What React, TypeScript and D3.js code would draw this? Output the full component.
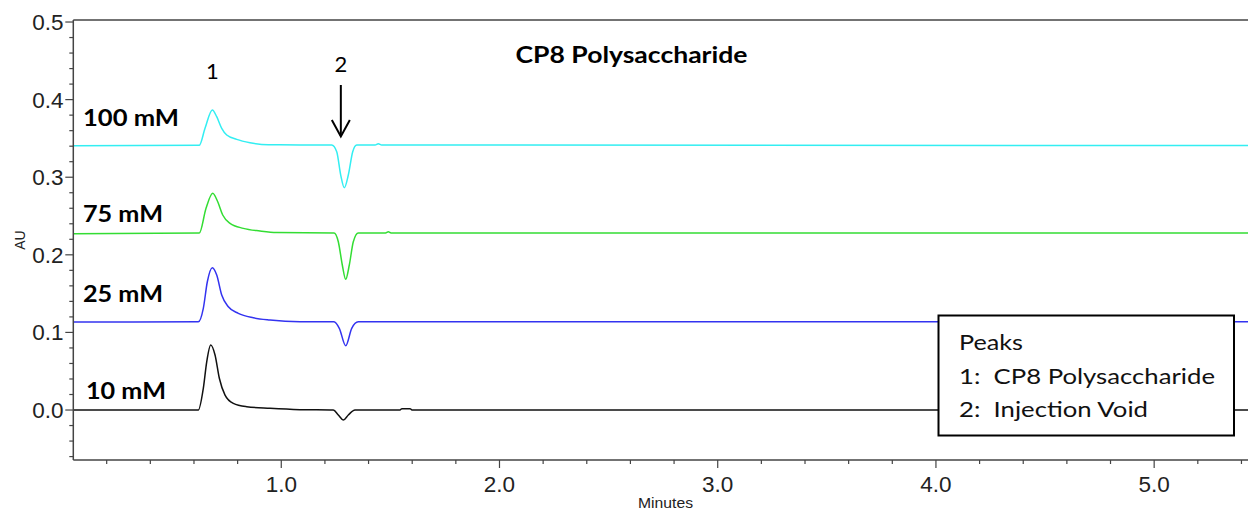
import React from "react";
import * as d3 from "d3";

// Chromatogram traces: [time (min), absorbance (AU)]
const trace100mM: [number, number][] = [
  [0.047, 0.3405], [0.6245, 0.3412], [0.6506, 0.363], [0.6841, 0.3866], [0.7042, 0.378],
  [0.7271, 0.363], [0.75, 0.3544], [0.7959, 0.3488], [0.8568, 0.3445], [0.9407, 0.3418],
  [1.2312, 0.3415], [1.2541, 0.3329], [1.2724, 0.3028], [1.2889, 0.2865], [1.3072, 0.3028],
  [1.3274, 0.3329], [1.3457, 0.3415], [1.43, 0.3415], [1.4447, 0.3432], [1.46, 0.3415],
  [5.43, 0.3408],
];
const trace75mM: [number, number][] = [
  [0.047, 0.2272], [0.6245, 0.228], [0.6552, 0.2599], [0.6859, 0.2793], [0.7088, 0.2684],
  [0.7317, 0.2513], [0.7652, 0.2406], [0.8261, 0.2341], [0.9026, 0.2307], [0.9791, 0.2287],
  [1.2417, 0.2282], [1.2614, 0.2169], [1.2797, 0.1869], [1.2953, 0.1684], [1.3118, 0.1869],
  [1.3301, 0.2169], [1.353, 0.2282], [1.478, 0.2282], [1.4905, 0.2298], [1.503, 0.2282],
  [5.43, 0.2282],
];
const trace25mM: [number, number][] = [
  [0.047, 0.1134], [0.6199, 0.1136], [0.6428, 0.1311], [0.6612, 0.1653], [0.6841, 0.1834],
  [0.7042, 0.174], [0.7271, 0.1482], [0.7574, 0.1331], [0.8032, 0.1246], [0.8719, 0.1189],
  [0.9485, 0.116], [1.086, 0.1138], [1.2417, 0.1137], [1.266, 0.1053], [1.2953, 0.0829],
  [1.3228, 0.1053], [1.353, 0.1137], [5.43, 0.1137],
];
const trace10mM: [number, number][] = [
  [0.047, 0.0], [0.6199, 0.0], [0.6428, 0.028], [0.6584, 0.0622], [0.6768, 0.0838],
  [0.6965, 0.0709], [0.7162, 0.0409], [0.7423, 0.0193], [0.7803, 0.0086], [0.8417, 0.0043],
  [0.9485, 0.0022], [1.086, 0.0005], [1.2385, 0.0], [1.2614, -0.0064], [1.2843, -0.0129],
  [1.3072, -0.0064], [1.3379, 0.0], [1.544, 0.0], [1.553, 0.0018], [1.59, 0.0018],
  [1.599, 0.0], [5.43, 0.0],
];

const concentrations = ["100 mM", "75 mM", "25 mM", "10 mM"];
const traces = [trace100mM, trace75mM, trace25mM, trace10mM];

const yTicks = [0.0, 0.1, 0.2, 0.3, 0.4, 0.5];
const xTicks = [1.0, 2.0, 3.0, 4.0, 5.0];

const peakNumbers = ["1", "2"];
const peakTimes = [0.684, 1.289];
const legendTitle = "Peaks";
const legendEntries = ["1:  CP8 Polysaccharide", "2:  Injection Void"];
const chartTitle = "CP8 Polysaccharide";

// Styling / layout
const W = 1248;
const H = 512;
const colors = ["#33eef2", "#33dd33", "#3333f0", "#111111"];
const labelOffsets = [
  { x: 83, dy: -19.5, w: 96 },
  { x: 83, dy: -11.5, w: 80 },
  { x: 83, dy: -20.5, w: 80 },
  { x: 86, dy: -11.5, w: 80 },
];
const legendWidths = [64, 256, 189];

export default function App() {
  const x = d3.scaleLinear().domain([0.047, 5.43]).range([73.3, 1248]);
  const y = d3.scaleLinear().domain([-0.0644, 0.5026]).range([460, 20]);

  const line = d3
    .line<[number, number]>()
    .x((d) => x(d[0]))
    .y((d) => y(d[1]))
    .curve(d3.curveMonotoneX);

  const xMinor = d3.range(0.2, 5.41, 0.2).filter((t) => Math.abs(t - Math.round(t)) > 1e-6);
  const yMinor = d3.range(-0.06, 0.501, 0.02).filter(
    (v) => Math.abs(v * 10 - Math.round(v * 10)) > 1e-6
  );

  const axisColor = "#444";
  const left = x(0.047);
  const bottom = y(-0.0644);
  const top = y(0.5026);
  const ax = x(peakTimes[1]) - 3.5;

  return (
    <div style={{ position: "fixed", left: 0, top: 0 }}>
      <svg width={W} height={H} style={{ display: "block", background: "#fff" }}>
        {/* traces */}
        <g fill="none" strokeWidth={1.5} strokeLinejoin="round">
          {traces.map((tr, i) => (
            <path key={i} d={line(tr) || ""} stroke={colors[i]} />
          ))}
        </g>

        {/* frame */}
        <g stroke={axisColor} strokeWidth={1.5} fill="none">
          <line x1={left} y1={top} x2={W} y2={top} />
          <line x1={left} y1={top} x2={left} y2={bottom} />
          <line x1={left} y1={bottom} x2={W} y2={bottom} />
        </g>

        {/* y axis ticks */}
        <g stroke={axisColor} strokeWidth={1.2}>
          {yTicks.map((v) => (
            <line key={"yM" + v} x1={left - 8} x2={left} y1={y(v)} y2={y(v)} />
          ))}
          {yMinor.map((v, i) => (
            <line key={"ym" + i} x1={left - 4} x2={left} y1={y(v)} y2={y(v)} />
          ))}
        </g>
        <g fontFamily="'Liberation Sans', Arial, sans-serif" fontSize={22.5} fill="#222" textAnchor="end">
          {yTicks.map((v) => (
            <text key={"yl" + v} x={63.5} y={y(v) + 8}>
              {d3.format(".1f")(v)}
            </text>
          ))}
        </g>

        {/* x axis ticks */}
        <g stroke={axisColor} strokeWidth={1.2}>
          {xTicks.map((t) => (
            <line key={"xM" + t} x1={x(t)} x2={x(t)} y1={bottom} y2={bottom + 8} />
          ))}
          {xMinor.map((t, i) => (
            <line key={"xm" + i} x1={x(t)} x2={x(t)} y1={bottom} y2={bottom + 4} />
          ))}
        </g>
        <g fontFamily="'Liberation Sans', Arial, sans-serif" fontSize={22.5} fill="#222" textAnchor="middle">
          {xTicks.map((t) => (
            <text key={"xl" + t} x={x(t)} y={492}>
              {d3.format(".1f")(t)}
            </text>
          ))}
        </g>

        {/* axis titles */}
        <text
          x={638}
          y={508}
          fontFamily="'Liberation Sans', Arial, sans-serif"
          fontSize={15}
          fill="#222"
          textLength={55}
          lengthAdjust="spacingAndGlyphs"
        >
          Minutes
        </text>
        <text
          transform="translate(25,240) rotate(-90)"
          textAnchor="middle"
          fontFamily="'Liberation Sans', Arial, sans-serif"
          fontSize={14}
          fill="#222"
        >
          AU
        </text>

        {/* chart title */}
        <text
          x={515.5}
          y={63}
          fontFamily="Lato, sans-serif"
          fontWeight="bold"
          fontSize={23}
          fill="#000"
          textLength={232}
          lengthAdjust="spacingAndGlyphs"
        >
          {chartTitle}
        </text>

        {/* concentration labels */}
        <g fontFamily="Lato, sans-serif" fontWeight="bold" fontSize={22} fill="#000">
          {concentrations.map((c, i) => (
            <text
              key={c}
              x={labelOffsets[i].x}
              y={y(traces[i][0][1]) + labelOffsets[i].dy}
              textLength={labelOffsets[i].w}
              lengthAdjust="spacingAndGlyphs"
            >
              {c}
            </text>
          ))}
        </g>

        {/* peak numbers and arrow */}
        <g fontFamily="Lato, sans-serif" fontSize={22} fill="#000" textAnchor="middle">
          <text x={x(peakTimes[0])} y={78.5}>{peakNumbers[0]}</text>
          <text x={ax} y={72}>{peakNumbers[1]}</text>
        </g>
        <g stroke="#000" strokeWidth={2} fill="none">
          <line x1={ax} y1={85} x2={ax} y2={136} />
          <polyline points={`${ax - 9},120 ${ax},136.5 ${ax + 9},120`} />
        </g>

        {/* legend box */}
        <rect x={938.5} y={315.5} width={295.5} height={120} fill="#fff" stroke="#000" strokeWidth={2} />
        <g fontFamily="Lato, sans-serif" fontSize={22} fill="#111">
          <text x={959} y={349.5} textLength={legendWidths[0]} lengthAdjust="spacingAndGlyphs">
            {legendTitle}
          </text>
          <text
            x={959}
            y={383.5}
            xmlSpace="preserve"
            textLength={legendWidths[1]}
            lengthAdjust="spacingAndGlyphs"
          >
            {legendEntries[0]}
          </text>
          <text
            x={959}
            y={417}
            xmlSpace="preserve"
            textLength={legendWidths[2]}
            lengthAdjust="spacingAndGlyphs"
          >
            {legendEntries[1]}
          </text>
        </g>
      </svg>
    </div>
  );
}
